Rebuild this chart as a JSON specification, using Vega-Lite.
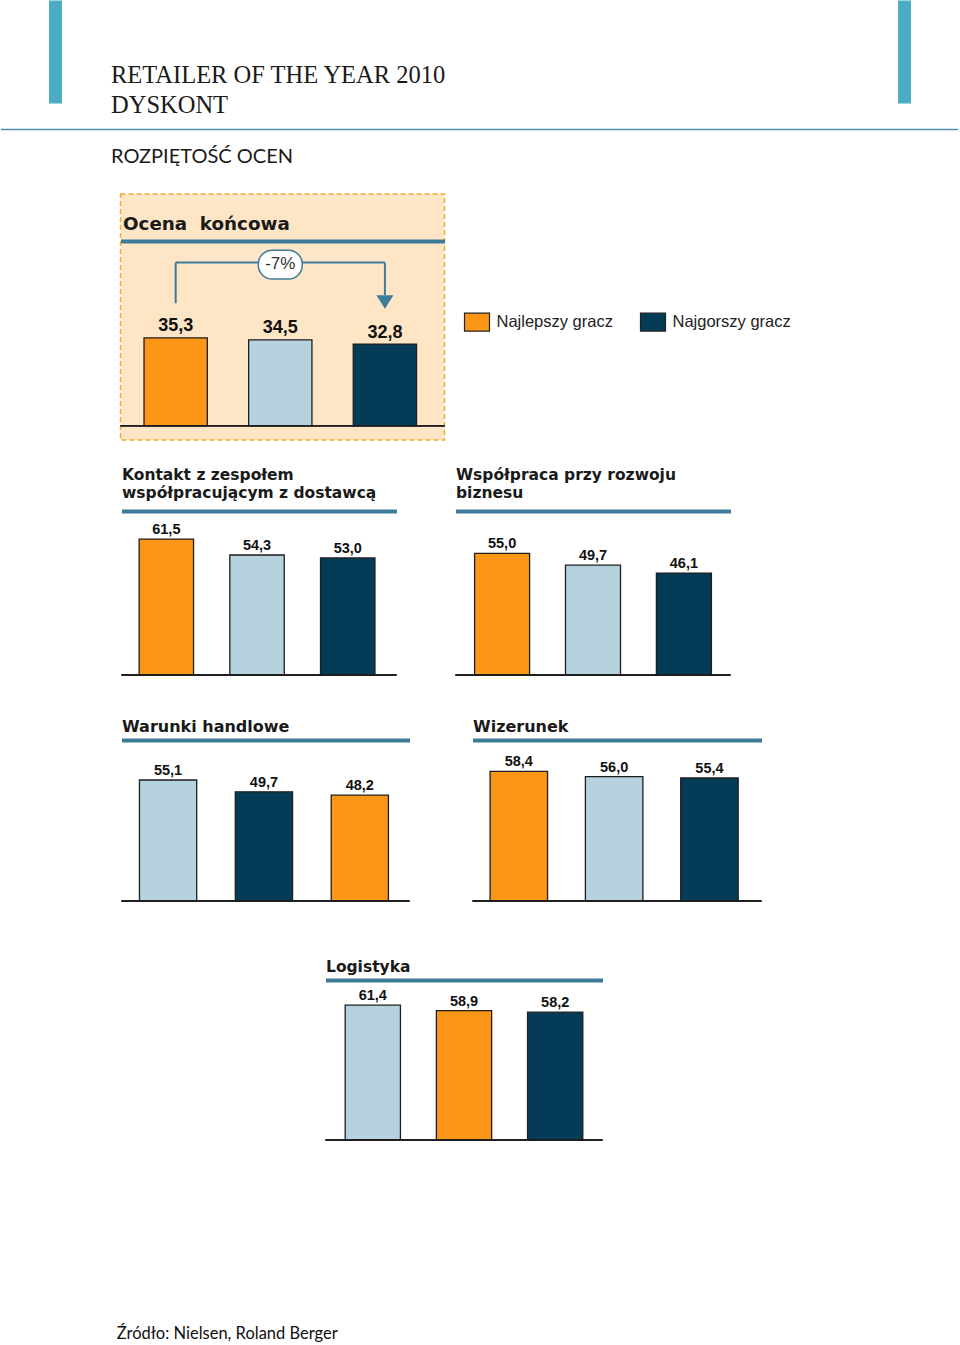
{
  "$schema": "https://vega.github.io/schema/vega-lite/v6.json",
  "background": "#ffffff",
  "padding": {"left": -2.5, "top": 0, "right": 0, "bottom": 0},
  "config": {
    "view": {"stroke": null},
    "axis": {"grid": false},
    "locale": {"number": {"decimal": ",", "thousands": " ", "grouping": [3], "currency": ["", " zł"]}}
  },
  "datasets": {
    "ratings": [
      {"panel": "Ocena końcowa", "rank": 1, "gracz": "Najlepszy gracz", "value": 35.3},
      {"panel": "Ocena końcowa", "rank": 2, "gracz": "Średnia", "value": 34.5},
      {"panel": "Ocena końcowa", "rank": 3, "gracz": "Najgorszy gracz", "value": 32.8},
      {"panel": "Kontakt", "rank": 1, "gracz": "Najlepszy gracz", "value": 61.5},
      {"panel": "Kontakt", "rank": 2, "gracz": "Średnia", "value": 54.3},
      {"panel": "Kontakt", "rank": 3, "gracz": "Najgorszy gracz", "value": 53.0},
      {"panel": "Współpraca", "rank": 1, "gracz": "Najlepszy gracz", "value": 55.0},
      {"panel": "Współpraca", "rank": 2, "gracz": "Średnia", "value": 49.7},
      {"panel": "Współpraca", "rank": 3, "gracz": "Najgorszy gracz", "value": 46.1},
      {"panel": "Warunki handlowe", "rank": 1, "gracz": "Średnia", "value": 55.1},
      {"panel": "Warunki handlowe", "rank": 2, "gracz": "Najgorszy gracz", "value": 49.7},
      {"panel": "Warunki handlowe", "rank": 3, "gracz": "Najlepszy gracz", "value": 48.2},
      {"panel": "Wizerunek", "rank": 1, "gracz": "Najlepszy gracz", "value": 58.4},
      {"panel": "Wizerunek", "rank": 2, "gracz": "Średnia", "value": 56.0},
      {"panel": "Wizerunek", "rank": 3, "gracz": "Najgorszy gracz", "value": 55.4},
      {"panel": "Logistyka", "rank": 1, "gracz": "Średnia", "value": 61.4},
      {"panel": "Logistyka", "rank": 2, "gracz": "Najlepszy gracz", "value": 58.9},
      {"panel": "Logistyka", "rank": 3, "gracz": "Najgorszy gracz", "value": 58.2}
    ]
  },
  "title": {"text": "Źródło: Nielsen, Roland Berger", "orient": "bottom", "anchor": "start", "frame": "bounds", "dx": 119, "offset": 198, "baseline": "alphabetic", "font": "Lato", "fontSize": 16.5, "fontWeight": "normal", "color": "#111111"},
  "spacing": 0,
  "vconcat": [
    {
      "width": 957, "height": 103,
      "data": {"values": [{}]},
      "layer": [
        {
          "mark": {"type": "point", "opacity": 0},
          "encoding": {
            "x": {"datum": 0, "type": "quantitative", "scale": {"domain": [0, 1]},
              "axis": {"orient": "bottom", "offset": 26, "domainColor": "#4F8DB1", "domainWidth": 1.5, "ticks": false, "labels": false, "grid": false,
                "title": "ROZPIĘTOŚĆ OCEN", "titleX": 110, "titleY": 33, "titleAlign": "left", "titleBaseline": "alphabetic", "titleFont": "Lato", "titleFontSize": 20, "titleFontWeight": "normal", "titleColor": "#1a1a1a"}},
            "y": {"datum": 0, "type": "quantitative", "scale": {"domain": [0, 1]},
              "axis": {"orient": "left", "offset": -54.5, "domainColor": "#4BACC6", "domainWidth": 13, "ticks": false, "labels": false, "grid": false,
                "title": ["RETAILER OF THE YEAR 2010", "DYSKONT"], "titleAngle": 0, "titleX": 55.5, "titleY": 82, "titleAlign": "left", "titleBaseline": "alphabetic", "titleFont": "Liberation Serif", "titleFontSize": 24.5, "titleFontWeight": "normal", "titleColor": "#1a1a1a", "titleLineHeight": 30}}
          }
        },
        {
          "mark": {"type": "point", "opacity": 0},
          "encoding": {
            "y": {"datum": 0, "type": "quantitative",
              "axis": {"orient": "right", "offset": -53.5, "domainColor": "#4BACC6", "domainWidth": 13, "ticks": false, "labels": false, "grid": false, "title": null}}
          }
        }
      ],
      "resolve": {"axis": {"y": "independent"}}
    },
    {"width": 1, "height": 27, "data": {"values": []}, "mark": "point"},
    {
      "spacing": 0,
      "hconcat": [
        {"width": 118, "height": 1, "data": {"values": []}, "mark": "point"},
        {
          "width": 324, "height": 246,
          "view": {"fill": "#FDE5C6", "stroke": "#F0AC34", "strokeWidth": 1.5, "strokeDash": [5, 3]},
          "data": {"name": "ratings"},
          "transform": [{"filter": "datum.panel === 'Ocena końcowa'"}],
          "encoding": {"y": {"field": "value", "type": "quantitative", "scale": {"domain": [-5.74, 93.05], "nice": false, "zero": false}, "axis": null}},
          "layer": [
            {
              "mark": {"type": "bar", "stroke": "#1e1e1e", "strokeWidth": 1.3},
              "encoding": {
                "x": {"field": "rank", "type": "ordinal", "scale": {"type": "band", "paddingInner": 0.395, "paddingOuter": 0.246, "align": 0.457},
                  "axis": {"orient": "top", "offset": -47, "labels": false, "ticks": false, "domainColor": "#3E7B9A", "domainWidth": 4,
                    "title": "Ocena\u00a0 końcowa", "titleX": 2, "titleY": -12, "titleAlign": "left", "titleBaseline": "alphabetic", "titleFont": "DejaVu Sans", "titleFontSize": 18.3, "titleFontWeight": "bold", "titleColor": "#1a1a1a"}},
                "y2": {"datum": 0},
                "color": {"field": "gracz", "type": "nominal",
                  "scale": {"domain": ["Najlepszy gracz", "Średnia", "Najgorszy gracz"], "range": ["#FB9617", "#B5D2DE", "#043B57"]},
                  "legend": {"orient": "none", "legendX": 463, "legendY": 308.5, "direction": "horizontal", "title": null, "values": ["Najlepszy gracz", "Najgorszy gracz"],
                    "symbolType": "M-1,-0.72L1,-0.72L1,0.72L-1,0.72Z", "symbolSize": 625, "symbolStrokeColor": "#222222", "symbolStrokeWidth": 1.2, "symbolOpacity": 1,
                    "labelFont": "Liberation Sans", "labelFontSize": 16.5, "labelColor": "#222222", "labelOffset": 6, "columnPadding": 24}}
              }
            },
            {
              "mark": {"type": "text", "baseline": "alphabetic", "dy": -6.5, "font": "Liberation Sans", "fontSize": 18, "fontWeight": "bold", "color": "#111111"},
              "encoding": {"x": {"field": "rank", "type": "ordinal"}, "text": {"field": "value", "type": "quantitative", "format": ".1f"}}
            },
            {"mark": {"type": "rule", "color": "#1e1e1e", "strokeWidth": 1.5}, "encoding": {"y": {"datum": 0}}},
            {
              "transform": [{"filter": "datum.rank === 1"}],
              "mark": {"type": "rule", "color": "#3E7B9A", "strokeWidth": 2},
              "encoding": {"x": {"datum": 1, "type": "ordinal", "bandPosition": 0.5}, "y": {"datum": 49.2}, "y2": {"datum": 65.5}}
            },
            {
              "transform": [{"filter": "datum.rank === 1"}],
              "mark": {"type": "rule", "color": "#3E7B9A", "strokeWidth": 2},
              "encoding": {"x": {"datum": 1, "type": "ordinal", "bandPosition": 0.5}, "x2": {"datum": 3}, "y": {"datum": 65.5}}
            },
            {
              "transform": [{"filter": "datum.rank === 1"}],
              "mark": {"type": "rule", "color": "#3E7B9A", "strokeWidth": 2},
              "encoding": {"x": {"datum": 3, "type": "ordinal", "bandPosition": 0.5}, "y": {"datum": 65.5}, "y2": {"datum": 52.5}}
            },
            {
              "transform": [{"filter": "datum.rank === 1"}],
              "mark": {"type": "point", "shape": "M-1,-0.8L1,-0.8L0,0.8Z", "size": 289, "filled": true, "color": "#3E7B9A", "opacity": 1},
              "encoding": {"x": {"datum": 3, "type": "ordinal"}, "y": {"datum": 49.7}}
            },
            {
              "transform": [{"filter": "datum.rank === 1"}],
              "mark": {"type": "bar", "width": 44, "cornerRadius": 14, "fill": "#ffffff", "stroke": "#3E7B9A", "strokeWidth": 1.5},
              "encoding": {"x": {"datum": 2, "type": "ordinal"}, "y": {"datum": 70.5}, "y2": {"datum": 58.9}}
            },
            {
              "transform": [{"filter": "datum.rank === 1"}],
              "mark": {"type": "text", "text": "-7%", "font": "Liberation Sans", "fontSize": 17, "color": "#333333", "baseline": "middle"},
              "encoding": {"x": {"datum": 2, "type": "ordinal"}, "y": {"datum": 64.74}}
            }
          ]
        }
      ]
    },
    {"width": 1, "height": 19, "data": {"values": []}, "mark": "point"},
    {
      "spacing": 0,
      "hconcat": [
        {"width": 120, "height": 1, "data": {"values": []}, "mark": "point"},
        {
          "width": 275, "height": 215,
          "data": {"name": "ratings"},
          "transform": [{"filter": "datum.panel === 'Kontakt'"}],
          "encoding": {"y": {"field": "value", "type": "quantitative", "scale": {"domain": [0, 97.29], "nice": false, "zero": false}, "axis": null}},
          "layer": [
            {
              "mark": {"type": "bar", "stroke": "#1e1e1e", "strokeWidth": 1.3},
              "encoding": {
                "x": {"field": "rank", "type": "ordinal", "scale": {"type": "band", "paddingInner": 0.4, "paddingOuter": 0.216, "align": 0.45},
                  "axis": {"orient": "top", "offset": -51, "labels": false, "ticks": false, "domainColor": "#3E7B9A", "domainWidth": 4,
                    "title": ["Kontakt z zespołem", "współpracującym z dostawcą"], "titleX": 0, "titleY": -31.5, "titleAlign": "left", "titleBaseline": "alphabetic", "titleFont": "DejaVu Sans", "titleFontSize": 15.5, "titleFontWeight": "bold", "titleColor": "#1a1a1a", "titleLineHeight": 18}},
                "y2": {"datum": 0},
                "color": {"field": "gracz", "type": "nominal", "scale": {"domain": ["Najlepszy gracz", "Średnia", "Najgorszy gracz"], "range": ["#FB9617", "#B5D2DE", "#043B57"]}, "legend": null}
              }
            },
            {
              "mark": {"type": "text", "baseline": "alphabetic", "dy": -5, "font": "Liberation Sans", "fontSize": 14.5, "fontWeight": "bold", "color": "#111111"},
              "encoding": {"x": {"field": "rank", "type": "ordinal"}, "text": {"field": "value", "type": "quantitative", "format": ".1f"}}
            },
            {"mark": {"type": "rule", "color": "#1e1e1e", "strokeWidth": 1.5}, "encoding": {"y": {"datum": 0}}}
          ]
        },
        {"width": 57, "height": 1, "data": {"values": []}, "mark": "point"},
        {
          "width": 275, "height": 215,
          "data": {"name": "ratings"},
          "transform": [{"filter": "datum.panel === 'Współpraca'"}],
          "encoding": {"y": {"field": "value", "type": "quantitative", "scale": {"domain": [0, 97.29], "nice": false, "zero": false}, "axis": null}},
          "layer": [
            {
              "mark": {"type": "bar", "stroke": "#1e1e1e", "strokeWidth": 1.3},
              "encoding": {
                "x": {"field": "rank", "type": "ordinal", "scale": {"type": "band", "paddingInner": 0.395, "paddingOuter": 0.21, "align": 0.5},
                  "axis": {"orient": "top", "offset": -51, "labels": false, "ticks": false, "domainColor": "#3E7B9A", "domainWidth": 4,
                    "title": ["Współpraca przy rozwoju", "biznesu"], "titleX": 0, "titleY": -31.5, "titleAlign": "left", "titleBaseline": "alphabetic", "titleFont": "DejaVu Sans", "titleFontSize": 15.5, "titleFontWeight": "bold", "titleColor": "#1a1a1a", "titleLineHeight": 18}},
                "y2": {"datum": 0},
                "color": {"field": "gracz", "type": "nominal", "scale": {"domain": ["Najlepszy gracz", "Średnia", "Najgorszy gracz"], "range": ["#FB9617", "#B5D2DE", "#043B57"]}, "legend": null}
              }
            },
            {
              "mark": {"type": "text", "baseline": "alphabetic", "dy": -5, "font": "Liberation Sans", "fontSize": 14.5, "fontWeight": "bold", "color": "#111111"},
              "encoding": {"x": {"field": "rank", "type": "ordinal"}, "text": {"field": "value", "type": "quantitative", "format": ".1f"}}
            },
            {"mark": {"type": "rule", "color": "#1e1e1e", "strokeWidth": 1.5}, "encoding": {"y": {"datum": 0}}}
          ]
        }
      ]
    },
    {"width": 1, "height": 36, "data": {"values": []}, "mark": "point"},
    {
      "spacing": 0,
      "hconcat": [
        {"width": 120, "height": 1, "data": {"values": []}, "mark": "point"},
        {
          "width": 288, "height": 189,
          "data": {"name": "ratings"},
          "transform": [{"filter": "datum.panel === 'Warunki handlowe'"}],
          "encoding": {"y": {"field": "value", "type": "quantitative", "scale": {"domain": [0, 86.07], "nice": false, "zero": false}, "axis": null}},
          "layer": [
            {
              "mark": {"type": "bar", "stroke": "#1e1e1e", "strokeWidth": 1.3},
              "encoding": {
                "x": {"field": "rank", "type": "ordinal", "scale": {"type": "band", "paddingInner": 0.403, "paddingOuter": 0.2035, "align": 0.46},
                  "axis": {"orient": "top", "offset": -28, "labels": false, "ticks": false, "domainColor": "#3E7B9A", "domainWidth": 4,
                    "title": "Warunki handlowe", "titleX": 0, "titleY": -9, "titleAlign": "left", "titleBaseline": "alphabetic", "titleFont": "DejaVu Sans", "titleFontSize": 16, "titleFontWeight": "bold", "titleColor": "#1a1a1a"}},
                "y2": {"datum": 0},
                "color": {"field": "gracz", "type": "nominal", "scale": {"domain": ["Najlepszy gracz", "Średnia", "Najgorszy gracz"], "range": ["#FB9617", "#B5D2DE", "#043B57"]}, "legend": null}
              }
            },
            {
              "mark": {"type": "text", "baseline": "alphabetic", "dy": -5, "font": "Liberation Sans", "fontSize": 14.5, "fontWeight": "bold", "color": "#111111"},
              "encoding": {"x": {"field": "rank", "type": "ordinal"}, "text": {"field": "value", "type": "quantitative", "format": ".1f"}}
            },
            {"mark": {"type": "rule", "color": "#1e1e1e", "strokeWidth": 1.5}, "encoding": {"y": {"datum": 0}}}
          ]
        },
        {"width": 61, "height": 1, "data": {"values": []}, "mark": "point"},
        {
          "width": 289, "height": 189,
          "data": {"name": "ratings"},
          "transform": [{"filter": "datum.panel === 'Wizerunek'"}],
          "encoding": {"y": {"field": "value", "type": "quantitative", "scale": {"domain": [0, 85.14], "nice": false, "zero": false}, "axis": null}},
          "layer": [
            {
              "mark": {"type": "bar", "stroke": "#1e1e1e", "strokeWidth": 1.3},
              "encoding": {
                "x": {"field": "rank", "type": "ordinal", "scale": {"type": "band", "paddingInner": 0.397, "paddingOuter": 0.2146, "align": 0.43},
                  "axis": {"orient": "top", "offset": -28, "labels": false, "ticks": false, "domainColor": "#3E7B9A", "domainWidth": 4,
                    "title": "Wizerunek", "titleX": 0, "titleY": -9, "titleAlign": "left", "titleBaseline": "alphabetic", "titleFont": "DejaVu Sans", "titleFontSize": 16, "titleFontWeight": "bold", "titleColor": "#1a1a1a"}},
                "y2": {"datum": 0},
                "color": {"field": "gracz", "type": "nominal", "scale": {"domain": ["Najlepszy gracz", "Średnia", "Najgorszy gracz"], "range": ["#FB9617", "#B5D2DE", "#043B57"]}, "legend": null}
              }
            },
            {
              "mark": {"type": "text", "baseline": "alphabetic", "dy": -5, "font": "Liberation Sans", "fontSize": 14.5, "fontWeight": "bold", "color": "#111111"},
              "encoding": {"x": {"field": "rank", "type": "ordinal"}, "text": {"field": "value", "type": "quantitative", "format": ".1f"}}
            },
            {"mark": {"type": "rule", "color": "#1e1e1e", "strokeWidth": 1.5}, "encoding": {"y": {"datum": 0}}}
          ]
        }
      ]
    },
    {"width": 1, "height": 51, "data": {"values": []}, "mark": "point"},
    {
      "spacing": 0,
      "hconcat": [
        {"width": 324, "height": 1, "data": {"values": []}, "mark": "point"},
        {
          "width": 277, "height": 187,
          "data": {"name": "ratings"},
          "transform": [{"filter": "datum.panel === 'Logistyka'"}],
          "encoding": {"y": {"field": "value", "type": "quantitative", "scale": {"domain": [0, 85.15], "nice": false, "zero": false}, "axis": null}},
          "layer": [
            {
              "mark": {"type": "bar", "stroke": "#1e1e1e", "strokeWidth": 1.3},
              "encoding": {
                "x": {"field": "rank", "type": "ordinal", "scale": {"type": "band", "paddingInner": 0.394, "paddingOuter": 0.216, "align": 0.5},
                  "axis": {"orient": "top", "offset": -27, "labels": false, "ticks": false, "domainColor": "#3E7B9A", "domainWidth": 4,
                    "title": "Logistyka", "titleX": 0, "titleY": -8.5, "titleAlign": "left", "titleBaseline": "alphabetic", "titleFont": "DejaVu Sans", "titleFontSize": 15.5, "titleFontWeight": "bold", "titleColor": "#1a1a1a"}},
                "y2": {"datum": 0},
                "color": {"field": "gracz", "type": "nominal", "scale": {"domain": ["Najlepszy gracz", "Średnia", "Najgorszy gracz"], "range": ["#FB9617", "#B5D2DE", "#043B57"]}, "legend": null}
              }
            },
            {
              "mark": {"type": "text", "baseline": "alphabetic", "dy": -5, "font": "Liberation Sans", "fontSize": 14.5, "fontWeight": "bold", "color": "#111111"},
              "encoding": {"x": {"field": "rank", "type": "ordinal"}, "text": {"field": "value", "type": "quantitative", "format": ".1f"}}
            },
            {"mark": {"type": "rule", "color": "#1e1e1e", "strokeWidth": 1.5}, "encoding": {"y": {"datum": 0}}}
          ]
        }
      ]
    }
  ]
}
